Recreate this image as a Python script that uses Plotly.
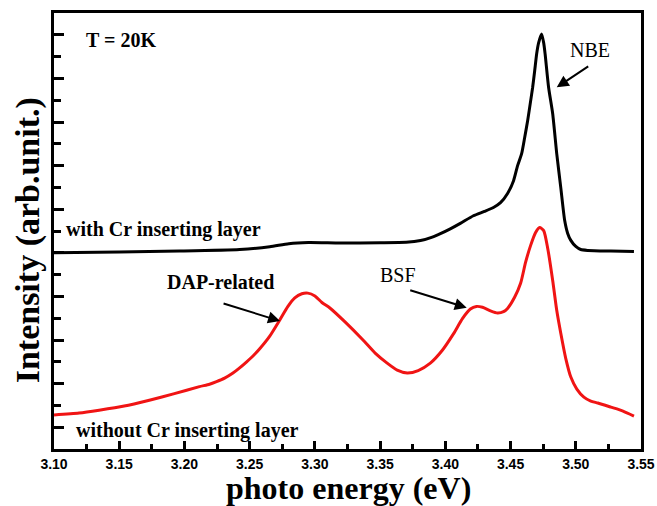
import plotly.graph_objects as go

# photon energy (eV) and intensity (arb. unit)
energy_with_cr = [3.1000, 3.1500, 3.1962, 3.2423, 3.2654, 3.2800, 3.2950, 3.3192, 3.3500, 3.3700,
                  3.3810, 3.3900, 3.3962, 3.4038, 3.4115, 3.4215, 3.4300, 3.4369, 3.4423,
                  3.4477, 3.4523, 3.4554, 3.4585, 3.4608, 3.4631, 3.4654, 3.4669, 3.4685, 3.4700,
                  3.4715, 3.4738, 3.4754, 3.4765, 3.4792, 3.4823, 3.4854, 3.4885, 3.4915, 3.4938,
                  3.4962, 3.5000, 3.5038, 3.5092, 3.5269, 3.5446]
intensity_with_cr = [9.00, 9.04, 9.08, 9.15, 9.28, 9.42, 9.47, 9.45, 9.46, 9.48,
                     9.56, 9.72, 9.88, 10.10, 10.35, 10.70, 10.90, 11.08, 11.30,
                     11.72, 12.31, 13.00, 13.55, 14.28, 15.06, 15.97, 16.57, 17.35, 18.12,
                     18.63, 19.04, 18.63, 18.12, 16.57, 15.38, 13.55, 11.99, 10.48, 9.89,
                     9.57, 9.29, 9.15, 9.11, 9.08, 9.06]

energy_without_cr = [3.1000, 3.1192, 3.1346, 3.1538, 3.1731, 3.1923, 3.2115, 3.2192, 3.2246, 3.2308,
                     3.2369, 3.2423, 3.2477, 3.2531, 3.2577, 3.2654, 3.2731, 3.2792, 3.2846, 3.2900,
                     3.2946, 3.3000, 3.3054, 3.3115, 3.3231, 3.3369, 3.3462, 3.3554, 3.3631, 3.3708,
                     3.3792, 3.3885, 3.3977, 3.4062, 3.4131, 3.4192, 3.4238, 3.4285, 3.4346, 3.4400,
                     3.4446, 3.4477, 3.4531, 3.4577, 3.4615, 3.4654, 3.4692, 3.4723, 3.4754, 3.4785,
                     3.4823, 3.4854, 3.4885, 3.4923, 3.4962, 3.5008, 3.5062, 3.5115, 3.5169, 3.5269,
                     3.5362, 3.5446]
intensity_without_cr = [1.56, 1.65, 1.78, 1.97, 2.24, 2.54, 2.86, 2.97, 3.09, 3.25,
                        3.47, 3.72, 4.00, 4.30, 4.60, 5.18, 5.92, 6.53, 6.93, 7.12,
                        7.15, 7.02, 6.72, 6.47, 5.83, 5.00, 4.40, 3.94, 3.62, 3.49,
                        3.60, 3.94, 4.53, 5.28, 5.98, 6.42, 6.54, 6.50, 6.34, 6.24,
                        6.30, 6.45, 6.96, 7.60, 8.56, 9.34, 9.93, 10.16, 10.02, 9.20,
                        7.73, 6.36, 5.31, 4.16, 3.30, 2.75, 2.38, 2.20, 2.11, 1.92,
                        1.74, 1.51]

x_ticks = [3.10, 3.15, 3.20, 3.25, 3.30, 3.35, 3.40, 3.45, 3.50, 3.55]
x_tick_labels = ["3.10", "3.15", "3.20", "3.25", "3.30", "3.35", "3.40", "3.45", "3.50", "3.55"]

SERIF = "Liberation Serif, Times New Roman, serif"
SANS = "Liberation Sans, Arial, sans-serif"

fig = go.Figure()
fig.add_trace(go.Scatter(x=energy_with_cr, y=intensity_with_cr, mode="lines",
                         line=dict(color="black", width=3, shape="spline", smoothing=0.6),
                         showlegend=False, hoverinfo="skip"))
fig.add_trace(go.Scatter(x=energy_without_cr, y=intensity_without_cr, mode="lines",
                         line=dict(color="#f01414", width=3, shape="spline", smoothing=0.6),
                         showlegend=False, hoverinfo="skip"))

fig.update_layout(
    width=657, height=506,
    margin=dict(l=54, r=16, t=13, b=57, autoexpand=False),
    paper_bgcolor="white", plot_bgcolor="white",
    showlegend=False,
)
fig.update_xaxes(
    range=[3.10, 3.55], tickmode="array", tickvals=x_ticks, ticktext=x_tick_labels,
    ticks="inside", ticklen=8, tickwidth=2.5, tickcolor="black",
    minor=dict(dtick=0.025, tick0=3.10, ticks="inside", ticklen=5, tickwidth=2.5, tickcolor="black"),
    showline=True, linewidth=2.5, linecolor="black", mirror=True,
    showgrid=False, zeroline=False, automargin=False,
    tickfont=dict(family=SANS, size=14, color="black", weight="bold"),
)
fig.update_yaxes(
    range=[0, 20], tick0=1, dtick=2, showticklabels=False,
    ticks="inside", ticklen=10, tickwidth=2.5, tickcolor="black",
    minor=dict(dtick=1, tick0=0, ticks="inside", ticklen=7, tickwidth=2.5, tickcolor="black"),
    showline=True, linewidth=2.5, linecolor="black", mirror=True,
    showgrid=False, zeroline=False, automargin=False,
)

# axis titles
fig.add_annotation(text="photo energy (eV)", xref="paper", yref="paper", x=0.502, y=-0.0894,
                   xanchor="center", yanchor="middle", showarrow=False,
                   font=dict(family=SERIF, size=32, color="black", weight="bold"))
fig.add_annotation(text="Intensity (arb.unit.)", xref="paper", yref="paper", x=-0.044, y=0.479,
                   xanchor="center", yanchor="middle", textangle=-90, showarrow=False,
                   font=dict(family=SERIF, size=34, color="black", weight="bold"))

# labels
labels = [
    ("T = 20K", 3.1514, 18.76, True, 20),
    ("NBE", 3.5109, 18.30, False, 20),
    ("with Cr inserting layer", 3.1839, 10.09, True, 20),
    ("without Cr inserting layer", 3.2023, 0.83, True, 20),
    ("DAP-related", 3.2276, 7.66, True, 20),
    ("BSF", 3.3637, 7.98, False, 20),
]
for txt, xx, yy, bold, sz in labels:
    fig.add_annotation(text=txt, x=xx, y=yy, xanchor="center", yanchor="middle", showarrow=False,
                       font=dict(family=SERIF, size=sz, color="black",
                                 weight="bold" if bold else "normal"))

# arrows (head at x,y; tail offset in pixels)
arrows = [
    (3.4854, 16.59, 33, -22),
    (3.2733, 5.87, -58, -18),
    (3.4164, 6.48, -58, -18),
]
for xx, yy, dx, dy in arrows:
    fig.add_annotation(text="", x=xx, y=yy, ax=dx, ay=dy, showarrow=True,
                       arrowhead=2, arrowsize=1.2, arrowwidth=2, arrowcolor="black", standoff=0)

fig.write_html("out.html", config={"displayModeBar": False},
               post_script="document.body.style.margin='0';")
